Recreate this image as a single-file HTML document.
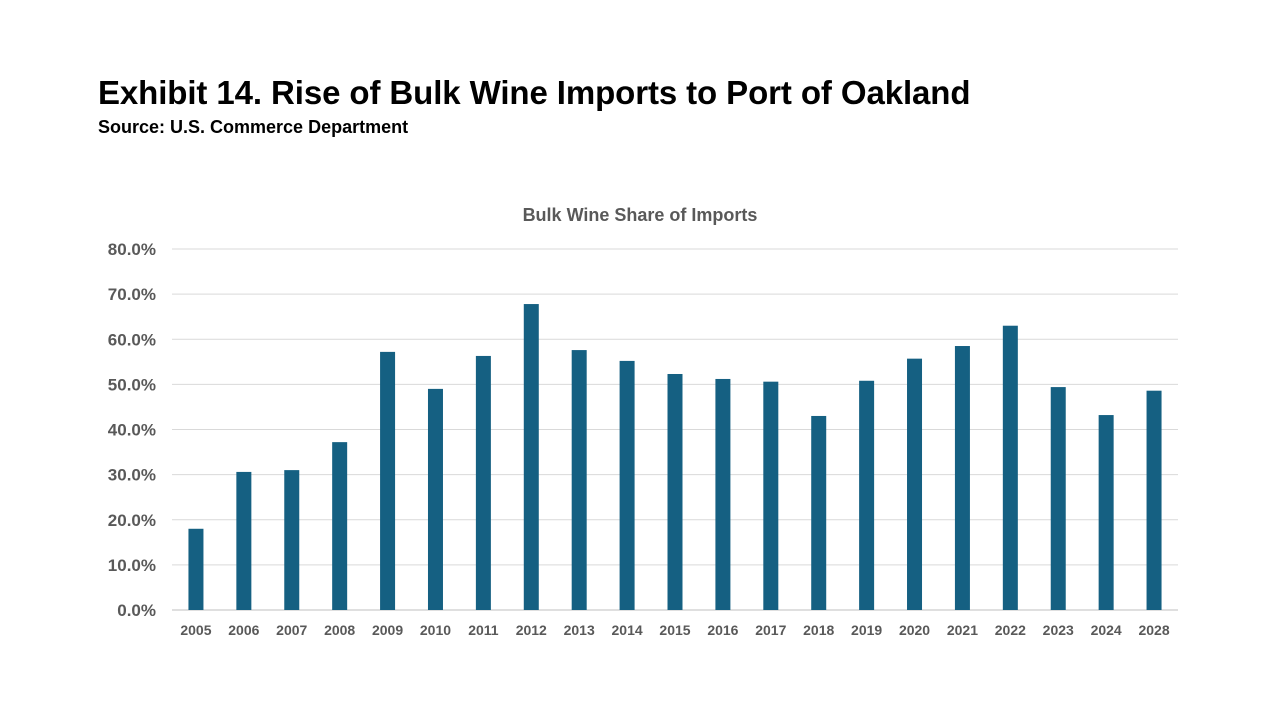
<!DOCTYPE html>
<html><head><meta charset="utf-8"><style>
body{margin:0;width:1280px;height:720px;background:#fff;font-family:"Liberation Sans",sans-serif;overflow:hidden}
#t{position:absolute;left:98px;top:74px;font-size:33px;font-weight:bold;color:#000;letter-spacing:-0.1px}
#s{position:absolute;left:98px;top:117px;font-size:18px;font-weight:bold;color:#000}
svg{position:absolute;left:0;top:0}
</style></head><body>
<div id="t">Exhibit 14. Rise of Bulk Wine Imports to Port of Oakland</div>
<div id="s">Source: U.S. Commerce Department</div>
<svg id="c" width="1280" height="720"></svg>
<script>
const categories=["2005","2006","2007","2008","2009","2010","2011","2012","2013","2014","2015","2016","2017","2018","2019","2020","2021","2022","2023","2024","2028"];
const values=[18.0,30.6,31.0,37.2,57.2,49.0,56.3,67.8,57.6,55.2,52.3,51.2,50.6,43.0,50.8,55.7,58.5,63.0,49.4,43.2,48.6];
const ticks=[0,10,20,30,40,50,60,70,80];
const svg=document.getElementById('c');const NS='http://www.w3.org/2000/svg';
const x0=172,x1=1178,y0=610,y1=249;
const y=v=>y0-(v/80)*(y0-y1);
const step=(x1-x0)/categories.length;
const x=i=>x0+step*(i+0.5);
function mk(t,a,txt){const e=document.createElementNS(NS,t);for(const k in a)e.setAttribute(k,a[k]);if(txt!==undefined)e.textContent=txt;svg.appendChild(e);return e;}
const ct=mk('text',{x:640,y:221,'text-anchor':'middle','font-size':18,'font-weight':'bold',fill:'#595959'},'Bulk Wine Share of Imports');


ticks.forEach(t=>{
 const l=mk('line',{x1:x0,x2:x1,y1:y(t),y2:y(t),stroke:t===0?'#bfbfbf':'#d9d9d9','stroke-width':1});
 
 
 const tx=mk('text',{x:156,y:y(t)+6,'text-anchor':'end','font-size':17,'font-weight':'bold',fill:'#595959'},t.toFixed(1)+'%');
 
 
});
categories.forEach((c,i)=>{
 const b=mk('rect',{x:x(i)-7.5,y:y(values[i]),width:15,height:y0-y(values[i]),fill:'#156082'});
 
 
 const tx=mk('text',{x:x(i),y:635,'text-anchor':'middle','font-size':14,'font-weight':'bold',fill:'#595959'},c);
 
 
});
</script>
</body></html>
